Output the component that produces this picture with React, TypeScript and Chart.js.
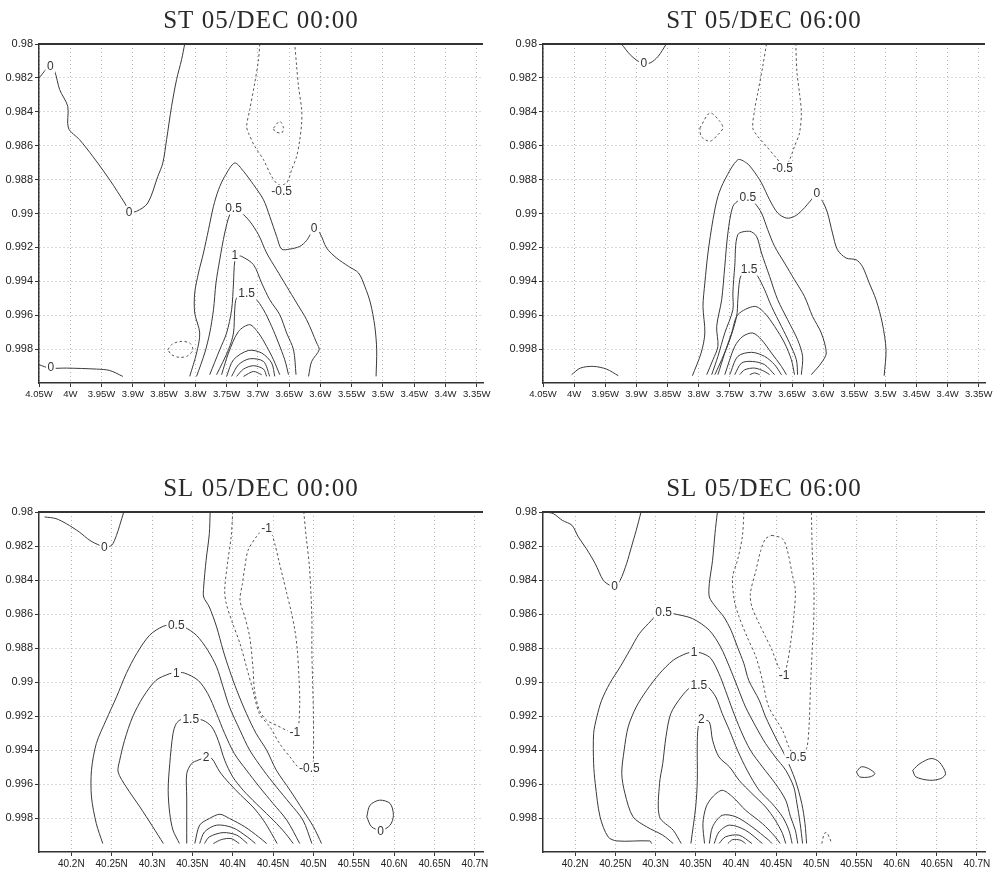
import React, { useEffect, useRef } from 'react';
import { Chart, registerables } from 'chart.js';

Chart.register(...registerables);

type Pt = [number, number];
type Lbl = [number, number, string];

// ---------- axes ----------
const ST_X_TICKS = [-4.05, -4.0, -3.95, -3.9, -3.85, -3.8, -3.75, -3.7, -3.65, -3.6, -3.55, -3.5, -3.45, -3.4, -3.35];
const ST_X_LABELS = ['4.05W', '4W', '3.95W', '3.9W', '3.85W', '3.8W', '3.75W', '3.7W', '3.65W', '3.6W', '3.55W', '3.5W', '3.45W', '3.4W', '3.35W'];
const SL_X_TICKS = [40.2, 40.25, 40.3, 40.35, 40.4, 40.45, 40.5, 40.55, 40.6, 40.65, 40.7];
const SL_X_LABELS = ['40.2N', '40.25N', '40.3N', '40.35N', '40.4N', '40.45N', '40.5N', '40.55N', '40.6N', '40.65N', '40.7N'];
const Y_TICKS = [0.98, 0.982, 0.984, 0.986, 0.988, 0.99, 0.992, 0.994, 0.996, 0.998];
const Y_LABELS = ['0.98', '0.982', '0.984', '0.986', '0.988', '0.99', '0.992', '0.994', '0.996', '0.998'];

// ---------- ST 05/DEC 00:00 ----------
const ST00_Z0_NW: Pt[] = [[-4.050,0.98201],[-4.033,0.98132],[-4.025,0.98161],[-4.017,0.98269],[-4.004,0.98368],[-4.003,0.98496],[-3.985,0.98565],[-3.964,0.98663],[-3.937,0.98801],[-3.913,0.98938],[-3.905,0.98987],[-3.894,0.98987],[-3.876,0.98938],[-3.860,0.98781],[-3.852,0.98702],[-3.846,0.98565],[-3.838,0.98368],[-3.830,0.98210],[-3.822,0.98092],[-3.817,0.98000]];
const ST00_Z0_SW: Pt[] = [[-4.05,0.99892],[-4.033,0.99912],[-4.006,0.99912],[-3.958,0.99918],[-3.937,0.99926],[-3.916,0.99961]];
const ST00_N05_BL: Pt[] = [[-3.844,0.99804],[-3.838,0.99774],[-3.825,0.99755],[-3.809,0.99764],[-3.804,0.99804],[-3.812,0.99839],[-3.825,0.99849],[-3.838,0.99833],[-3.844,0.99804]];
const ST00_N05_TOP: Pt[] = [[-3.697,0.98],[-3.699,0.98092],[-3.705,0.98230],[-3.713,0.98387],[-3.718,0.98486],[-3.715,0.98525],[-3.705,0.98604],[-3.691,0.98683],[-3.678,0.98781],[-3.667,0.98830],[-3.654,0.98820],[-3.646,0.98742],[-3.638,0.98663],[-3.633,0.98565],[-3.630,0.98466],[-3.630,0.98387],[-3.635,0.98250],[-3.638,0.98132],[-3.641,0.98]];
const ST00_N1_TOP: Pt[] = [[-3.675,0.98496],[-3.665,0.98456],[-3.659,0.98496],[-3.662,0.98525],[-3.673,0.98515],[-3.675,0.98496]];
const ST00_Z0_MAIN: Pt[] = [[-3.809,0.99961],[-3.798,0.99823],[-3.793,0.99705],[-3.801,0.99587],[-3.801,0.99469],[-3.795,0.99351],[-3.787,0.99233],[-3.779,0.99096],[-3.771,0.98958],[-3.763,0.98860],[-3.753,0.98781],[-3.737,0.98702],[-3.723,0.98751],[-3.707,0.98830],[-3.691,0.98919],[-3.681,0.99017],[-3.670,0.99135],[-3.662,0.99210],[-3.649,0.99210],[-3.633,0.99194],[-3.622,0.99159],[-3.610,0.99092],[-3.601,0.99115],[-3.590,0.99204],[-3.574,0.99263],[-3.555,0.99312],[-3.539,0.99351],[-3.529,0.99430],[-3.520,0.99528],[-3.513,0.99666],[-3.510,0.99804],[-3.511,0.99961]];
const ST00_P05: Pt[] = [[-3.798,0.99961],[-3.785,0.99823],[-3.777,0.99705],[-3.771,0.99568],[-3.767,0.99410],[-3.761,0.99273],[-3.753,0.99115],[-3.745,0.99007],[-3.737,0.98974],[-3.726,0.98997],[-3.713,0.99046],[-3.699,0.99125],[-3.686,0.99233],[-3.670,0.99332],[-3.654,0.99430],[-3.638,0.99528],[-3.622,0.99627],[-3.606,0.99764],[-3.602,0.99804],[-3.614,0.99873],[-3.619,0.99961]];
const ST00_P1: Pt[] = [[-3.777,0.99951],[-3.761,0.99804],[-3.750,0.99705],[-3.742,0.99568],[-3.739,0.99410],[-3.737,0.99282],[-3.733,0.99253],[-3.726,0.99253],[-3.707,0.99302],[-3.694,0.99410],[-3.681,0.99509],[-3.665,0.99597],[-3.654,0.99705],[-3.643,0.99804],[-3.639,0.99951]];
const ST00_P15: Pt[] = [[-3.766,0.99951],[-3.747,0.99804],[-3.739,0.99705],[-3.737,0.99568],[-3.734,0.99499],[-3.723,0.99479],[-3.705,0.99499],[-3.691,0.99568],[-3.678,0.99666],[-3.667,0.99764],[-3.657,0.99863],[-3.651,0.99951]];
const ST00_P2: Pt[] = [[-3.758,0.99951],[-3.747,0.99823],[-3.731,0.99696],[-3.713,0.99656],[-3.699,0.99705],[-3.686,0.99784],[-3.675,0.99863],[-3.665,0.99951]];
const ST00_P25: Pt[] = [[-3.750,0.99961],[-3.739,0.99863],[-3.715,0.99808],[-3.694,0.99823],[-3.678,0.99882],[-3.673,0.99961]];
const ST00_P3: Pt[] = [[-3.742,0.99961],[-3.731,0.99892],[-3.713,0.99857],[-3.691,0.99873],[-3.681,0.99961]];
const ST00_P35: Pt[] = [[-3.734,0.99961],[-3.723,0.99918],[-3.707,0.99898],[-3.691,0.99918],[-3.686,0.99961]];
const ST00_P4: Pt[] = [[-3.723,0.99961],[-3.707,0.99932],[-3.694,0.99951]];
const ST00_LABELS: Lbl[] = [[-4.032,0.98132,'0'],[-3.906,0.98993,'0'],[-4.031,0.99908,'0'],[-3.610,0.99086,'0'],[-3.662,0.98869,'-0.5'],[-3.739,0.98968,'0.5'],[-3.737,0.99243,'1'],[-3.718,0.99473,'1.5']];

// ---------- ST 05/DEC 06:00 ----------
const ST06_Z0_N: Pt[] = [[-3.924,0.98],[-3.910,0.98063],[-3.897,0.98102],[-3.888,0.98112],[-3.878,0.98112],[-3.865,0.98073],[-3.852,0.98]];
const ST06_Z0_SW: Pt[] = [[-4.004,0.99951],[-3.990,0.99912],[-3.969,0.99902],[-3.948,0.99918],[-3.929,0.99957]];
const ST06_N05_LOOP: Pt[] = [[-3.798,0.98496],[-3.782,0.98407],[-3.766,0.98456],[-3.761,0.98496],[-3.769,0.98535],[-3.782,0.98574],[-3.796,0.98545],[-3.798,0.98496]];
const ST06_N05_TOP: Pt[] = [[-3.691,0.98],[-3.697,0.98132],[-3.705,0.98289],[-3.710,0.98387],[-3.713,0.98496],[-3.705,0.98545],[-3.691,0.98604],[-3.675,0.98673],[-3.662,0.98722],[-3.654,0.98683],[-3.646,0.98604],[-3.638,0.98525],[-3.635,0.98407],[-3.638,0.98289],[-3.642,0.98171],[-3.644,0.98]];
const ST06_Z0_MAIN: Pt[] = [[-3.810,0.99957],[-3.796,0.99823],[-3.790,0.99705],[-3.793,0.99548],[-3.790,0.99410],[-3.785,0.99233],[-3.777,0.99037],[-3.769,0.98899],[-3.758,0.98801],[-3.737,0.98683],[-3.723,0.98702],[-3.713,0.98742],[-3.699,0.98820],[-3.686,0.98919],[-3.673,0.98997],[-3.659,0.99027],[-3.646,0.99017],[-3.633,0.98978],[-3.619,0.98919],[-3.611,0.98889],[-3.601,0.98928],[-3.593,0.98997],[-3.585,0.99115],[-3.577,0.99214],[-3.563,0.99263],[-3.547,0.99273],[-3.537,0.99312],[-3.526,0.99410],[-3.515,0.99509],[-3.505,0.99646],[-3.499,0.99804],[-3.502,0.99957]];
const ST06_P05: Pt[] = [[-3.787,0.99951],[-3.777,0.99863],[-3.769,0.99784],[-3.771,0.99666],[-3.763,0.99509],[-3.758,0.99312],[-3.753,0.99115],[-3.745,0.98958],[-3.734,0.98919],[-3.721,0.98903],[-3.710,0.98938],[-3.699,0.98997],[-3.689,0.99096],[-3.678,0.99194],[-3.662,0.99292],[-3.646,0.99391],[-3.630,0.99489],[-3.617,0.99607],[-3.603,0.99705],[-3.595,0.99823],[-3.603,0.99882],[-3.619,0.99951]];
const ST06_P1: Pt[] = [[-3.779,0.99951],[-3.769,0.99843],[-3.758,0.99705],[-3.745,0.99568],[-3.745,0.99469],[-3.742,0.99312],[-3.737,0.99125],[-3.718,0.99105],[-3.707,0.99135],[-3.699,0.99233],[-3.686,0.99371],[-3.673,0.99509],[-3.657,0.99627],[-3.641,0.99745],[-3.633,0.99843],[-3.635,0.99951]];
const ST06_P15: Pt[] = [[-3.774,0.99951],[-3.763,0.99863],[-3.750,0.99745],[-3.739,0.99607],[-3.737,0.99509],[-3.734,0.99391],[-3.729,0.99351],[-3.715,0.99332],[-3.705,0.99371],[-3.694,0.99450],[-3.683,0.99548],[-3.667,0.99666],[-3.654,0.99764],[-3.643,0.99863],[-3.641,0.99951]];
const ST06_P2: Pt[] = [[-3.769,0.99951],[-3.758,0.99823],[-3.747,0.99705],[-3.737,0.99597],[-3.710,0.99548],[-3.694,0.99587],[-3.678,0.99666],[-3.662,0.99764],[-3.651,0.99863],[-3.646,0.99951]];
const ST06_P25: Pt[] = [[-3.758,0.99951],[-3.742,0.99784],[-3.729,0.99725],[-3.713,0.99705],[-3.699,0.99745],[-3.683,0.99823],[-3.667,0.99902],[-3.659,0.99951]];
const ST06_P3: Pt[] = [[-3.750,0.99951],[-3.737,0.99843],[-3.715,0.99819],[-3.694,0.99843],[-3.678,0.99892],[-3.667,0.99951]];
const ST06_P35: Pt[] = [[-3.742,0.99951],[-3.731,0.99882],[-3.713,0.99873],[-3.694,0.99892],[-3.678,0.99951]];
const ST06_P4: Pt[] = [[-3.734,0.99951],[-3.726,0.99922],[-3.710,0.99912],[-3.694,0.99932],[-3.686,0.99951]];
const ST06_P45: Pt[] = [[-3.718,0.99951],[-3.710,0.99941],[-3.702,0.99951]];
const ST06_LABELS: Lbl[] = [[-3.888,0.98112,'0'],[-3.665,0.98732,'-0.5'],[-3.610,0.98883,'0'],[-3.721,0.98903,'0.5'],[-3.719,0.99328,'1.5']];

// ---------- SL 05/DEC 00:00 ----------
const SL00_Z0_NW: Pt[] = [[40.167,0.98029],[40.181,0.98039],[40.194,0.98069],[40.210,0.98118],[40.223,0.98167],[40.235,0.98196],[40.241,0.98206],[40.250,0.98196],[40.256,0.98137],[40.260,0.98078],[40.265,0.98]];
const SL00_Z0_MAIN: Pt[] = [[40.372,0.98],[40.371,0.98127],[40.367,0.98284],[40.364,0.98441],[40.364,0.98500],[40.371,0.98559],[40.380,0.98676],[40.388,0.98813],[40.396,0.98931],[40.405,0.99049],[40.417,0.99186],[40.429,0.99303],[40.442,0.99401],[40.454,0.99519],[40.471,0.99637],[40.487,0.99754],[40.500,0.99852],[40.510,0.99950]];
const SL00_Z0_LOOP: Pt[] = [[40.566,0.99793],[40.570,0.99725],[40.582,0.99695],[40.595,0.99715],[40.599,0.99784],[40.595,0.99842],[40.584,0.99872],[40.572,0.99852],[40.566,0.99793]];
const SL00_N05: Pt[] = [[40.400,0.98],[40.398,0.98147],[40.394,0.98284],[40.390,0.98461],[40.392,0.98539],[40.400,0.98657],[40.409,0.98774],[40.417,0.98911],[40.425,0.99049],[40.433,0.99186],[40.446,0.99264],[40.458,0.99362],[40.471,0.99441],[40.481,0.99499],[40.492,0.99509],[40.499,0.99480],[40.500,0.99401],[40.500,0.99205],[40.499,0.99009],[40.498,0.98813],[40.498,0.98617],[40.495,0.98323],[40.491,0.98147],[40.488,0.98]];
const SL00_N1: Pt[] = [[40.438,0.98098],[40.429,0.98147],[40.419,0.98225],[40.415,0.98323],[40.412,0.98421],[40.409,0.98519],[40.415,0.98617],[40.421,0.98735],[40.425,0.98911],[40.427,0.99049],[40.433,0.99166],[40.442,0.99225],[40.454,0.99254],[40.469,0.99288],[40.481,0.99294],[40.482,0.99245],[40.483,0.99107],[40.482,0.98970],[40.480,0.98813],[40.477,0.98696],[40.472,0.98578],[40.467,0.98480],[40.462,0.98382],[40.457,0.98284],[40.452,0.98186],[40.447,0.98118],[40.438,0.98098]];
const SL00_P05: Pt[] = [[40.239,0.99950],[40.231,0.99833],[40.225,0.99676],[40.225,0.99519],[40.231,0.99362],[40.243,0.99225],[40.256,0.99088],[40.268,0.98951],[40.281,0.98833],[40.297,0.98725],[40.314,0.98672],[40.330,0.98661],[40.340,0.98676],[40.355,0.98725],[40.369,0.98813],[40.380,0.98911],[40.388,0.99029],[40.396,0.99147],[40.409,0.99284],[40.421,0.99401],[40.438,0.99519],[40.454,0.99617],[40.471,0.99715],[40.487,0.99813],[40.498,0.99950]];
const SL00_P1: Pt[] = [[40.314,0.99950],[40.301,0.99852],[40.285,0.99735],[40.268,0.99617],[40.258,0.99529],[40.260,0.99460],[40.266,0.99343],[40.276,0.99205],[40.289,0.99088],[40.305,0.98990],[40.322,0.98951],[40.330,0.98945],[40.340,0.98947],[40.357,0.98990],[40.369,0.99068],[40.380,0.99186],[40.390,0.99303],[40.402,0.99421],[40.417,0.99519],[40.433,0.99617],[40.450,0.99715],[40.467,0.99813],[40.483,0.99950]];
const SL00_P15: Pt[] = [[40.334,0.99950],[40.326,0.99872],[40.322,0.99774],[40.320,0.99637],[40.322,0.99480],[40.326,0.99303],[40.330,0.99245],[40.336,0.99221],[40.349,0.99217],[40.363,0.99225],[40.374,0.99264],[40.382,0.99343],[40.390,0.99460],[40.400,0.99558],[40.413,0.99637],[40.429,0.99715],[40.446,0.99793],[40.462,0.99872],[40.475,0.99950]];
const SL00_P2: Pt[] = [[40.343,0.99950],[40.343,0.99676],[40.343,0.99539],[40.349,0.99480],[40.357,0.99460],[40.367,0.99445],[40.374,0.99450],[40.384,0.99529],[40.396,0.99597],[40.410,0.99666],[40.425,0.99735],[40.438,0.99813],[40.448,0.99891],[40.455,0.99950]];
const SL00_P25: Pt[] = [[40.353,0.99950],[40.359,0.99842],[40.371,0.99803],[40.384,0.99778],[40.396,0.99803],[40.415,0.99852],[40.432,0.99911],[40.442,0.99950]];
const SL00_P3: Pt[] = [[40.359,0.99950],[40.365,0.99882],[40.380,0.99842],[40.400,0.99857],[40.418,0.99911],[40.428,0.99950]];
const SL00_P35: Pt[] = [[40.365,0.99950],[40.371,0.99911],[40.388,0.99886],[40.405,0.99901],[40.418,0.99950]];
const SL00_P4: Pt[] = [[40.376,0.99950],[40.386,0.99927],[40.398,0.99921],[40.408,0.99950]];
const SL00_LABELS: Lbl[] = [[40.241,0.98206,'0'],[40.583,0.99878,'0'],[40.442,0.98098,'-1'],[40.477,0.99294,'-1'],[40.495,0.99509,'-0.5'],[40.330,0.98666,'0.5'],[40.330,0.98947,'1'],[40.348,0.99217,'1.5'],[40.367,0.99441,'2']];

// ---------- SL 05/DEC 06:00 ----------
const SL06_Z0_NW: Pt[] = [[40.163,0.98],[40.173,0.98010],[40.184,0.98049],[40.196,0.98078],[40.204,0.98147],[40.214,0.98216],[40.225,0.98304],[40.235,0.98402],[40.243,0.98431],[40.249,0.98441],[40.256,0.98402],[40.264,0.98304],[40.270,0.98206],[40.276,0.98108],[40.282,0.98]];
const SL06_Z0_MAIN: Pt[] = [[40.377,0.98],[40.374,0.98127],[40.371,0.98284],[40.367,0.98421],[40.367,0.98500],[40.375,0.98559],[40.385,0.98617],[40.394,0.98696],[40.402,0.98794],[40.410,0.98892],[40.416,0.98990],[40.429,0.99107],[40.437,0.99205],[40.449,0.99323],[40.462,0.99441],[40.474,0.99578],[40.482,0.99715],[40.486,0.99833],[40.488,0.99950]];
const SL06_Z0_LOOP_A: Pt[] = [[40.550,0.99529],[40.556,0.99499],[40.565,0.99509],[40.573,0.99539],[40.567,0.99558],[40.554,0.99558],[40.550,0.99529]];
const SL06_Z0_LOOP_B: Pt[] = [[40.620,0.99519],[40.629,0.99480],[40.643,0.99450],[40.653,0.99470],[40.661,0.99539],[40.655,0.99568],[40.641,0.99578],[40.624,0.99558],[40.620,0.99519]];
const SL06_N05: Pt[] = [[40.410,0.98],[40.408,0.98147],[40.402,0.98284],[40.396,0.98382],[40.398,0.98519],[40.404,0.98617],[40.414,0.98735],[40.425,0.98853],[40.433,0.98990],[40.441,0.99147],[40.458,0.99284],[40.466,0.99382],[40.472,0.99431],[40.480,0.99450],[40.488,0.99392],[40.491,0.99264],[40.493,0.99009],[40.495,0.98813],[40.497,0.98617],[40.497,0.98421],[40.495,0.98225],[40.494,0.98]];
const SL06_N05_ARC: Pt[] = [[40.507,0.99950],[40.510,0.99891],[40.513,0.99887],[40.517,0.99921],[40.519,0.99950]];
const SL06_N1: Pt[] = [[40.445,0.98137],[40.458,0.98157],[40.464,0.98225],[40.470,0.98363],[40.474,0.98461],[40.472,0.98617],[40.468,0.98774],[40.464,0.98892],[40.460,0.98951],[40.453,0.98911],[40.445,0.98813],[40.437,0.98735],[40.429,0.98657],[40.420,0.98559],[40.418,0.98480],[40.425,0.98343],[40.431,0.98225],[40.437,0.98157],[40.445,0.98137]];
const SL06_P05: Pt[] = [[40.295,0.99950],[40.293,0.99935],[40.252,0.99935],[40.241,0.99911],[40.231,0.99793],[40.225,0.99597],[40.223,0.99480],[40.223,0.99303],[40.227,0.99205],[40.233,0.99107],[40.243,0.99009],[40.256,0.98911],[40.268,0.98813],[40.280,0.98715],[40.295,0.98637],[40.303,0.98598],[40.311,0.98588],[40.322,0.98598],[40.346,0.98627],[40.367,0.98696],[40.381,0.98794],[40.392,0.98911],[40.402,0.99029],[40.412,0.99147],[40.425,0.99264],[40.437,0.99362],[40.449,0.99441],[40.462,0.99519],[40.472,0.99617],[40.476,0.99715],[40.480,0.99833],[40.483,0.99950]];
const SL06_P1: Pt[] = [[40.322,0.99950],[40.309,0.99901],[40.289,0.99852],[40.272,0.99793],[40.262,0.99656],[40.258,0.99539],[40.261,0.99401],[40.266,0.99264],[40.276,0.99147],[40.289,0.99049],[40.305,0.98951],[40.322,0.98872],[40.338,0.98833],[40.348,0.98823],[40.359,0.98833],[40.369,0.98862],[40.379,0.98951],[40.387,0.99049],[40.396,0.99166],[40.406,0.99284],[40.418,0.99401],[40.433,0.99499],[40.449,0.99597],[40.462,0.99695],[40.468,0.99793],[40.474,0.99872],[40.477,0.99950]];
const SL06_P15: Pt[] = [[40.332,0.99950],[40.322,0.99872],[40.305,0.99793],[40.305,0.99597],[40.309,0.99480],[40.313,0.99323],[40.319,0.99186],[40.332,0.99088],[40.344,0.99029],[40.354,0.99019],[40.365,0.99029],[40.375,0.99088],[40.383,0.99186],[40.392,0.99284],[40.402,0.99401],[40.414,0.99519],[40.429,0.99637],[40.445,0.99715],[40.458,0.99793],[40.466,0.99872],[40.470,0.99950]];
const SL06_P2: Pt[] = [[40.344,0.99950],[40.350,0.99735],[40.352,0.99578],[40.352,0.99343],[40.354,0.99245],[40.359,0.99225],[40.367,0.99235],[40.371,0.99343],[40.379,0.99441],[40.392,0.99499],[40.404,0.99578],[40.420,0.99656],[40.437,0.99735],[40.449,0.99813],[40.458,0.99891],[40.462,0.99950]];
const SL06_P25: Pt[] = [[40.361,0.99950],[40.359,0.99833],[40.363,0.99735],[40.371,0.99676],[40.383,0.99637],[40.396,0.99676],[40.412,0.99754],[40.433,0.99833],[40.449,0.99911],[40.455,0.99950]];
const SL06_P3: Pt[] = [[40.367,0.99950],[40.371,0.99852],[40.383,0.99784],[40.400,0.99793],[40.420,0.99852],[40.441,0.99931],[40.445,0.99950]];
const SL06_P35: Pt[] = [[40.373,0.99950],[40.379,0.99882],[40.392,0.99842],[40.412,0.99872],[40.433,0.99950]];
const SL06_P4: Pt[] = [[40.379,0.99950],[40.387,0.99911],[40.404,0.99901],[40.420,0.99950]];
const SL06_P45: Pt[] = [[40.390,0.99950],[40.396,0.99927],[40.406,0.99931],[40.412,0.99950]];
const SL06_LABELS: Lbl[] = [[40.249,0.98437,'0'],[40.310,0.98588,'0.5'],[40.348,0.98823,'1'],[40.354,0.99019,'1.5'],[40.357,0.99221,'2'],[40.460,0.98960,'-1'],[40.475,0.99445,'-0.5']];

interface Contour { level: number; pts: Pt[] }
interface PanelCfg {
  title: string;
  left: number; top: number; w: number; h: number;
  pad: { left: number; top: number; right: number; bottom: number };
  yAxisW: number;
  xMin: number; xMax: number;
  xTicks: number[]; xLabels: string[]; xFont: number;
  contours: Contour[];
  labels: Lbl[];
}

const PANELS: PanelCfg[] = [
  {
    title: 'ST 05/DEC 00:00', left: 0, top: 0, w: 499, h: 425,
    pad: { left: 0, top: 44, right: 16, bottom: 20 }, yAxisW: 39,
    xMin: -4.05, xMax: -3.34, xTicks: ST_X_TICKS, xLabels: ST_X_LABELS, xFont: 9.5,
    contours: [
      { level: 0, pts: ST00_Z0_NW }, { level: 0, pts: ST00_Z0_SW }, { level: -0.5, pts: ST00_N05_BL },
      { level: -0.5, pts: ST00_N05_TOP }, { level: -1, pts: ST00_N1_TOP }, { level: 0, pts: ST00_Z0_MAIN },
      { level: 0.5, pts: ST00_P05 }, { level: 1, pts: ST00_P1 }, { level: 1.5, pts: ST00_P15 },
      { level: 2, pts: ST00_P2 }, { level: 2.5, pts: ST00_P25 }, { level: 3, pts: ST00_P3 },
      { level: 3.5, pts: ST00_P35 }, { level: 4, pts: ST00_P4 },
    ],
    labels: ST00_LABELS,
  },
  {
    title: 'ST 05/DEC 06:00', left: 500, top: 0, w: 499, h: 425,
    pad: { left: 0, top: 44, right: 14, bottom: 20 }, yAxisW: 43,
    xMin: -4.05, xMax: -3.34, xTicks: ST_X_TICKS, xLabels: ST_X_LABELS, xFont: 9.5,
    contours: [
      { level: 0, pts: ST06_Z0_N }, { level: 0, pts: ST06_Z0_SW }, { level: -0.5, pts: ST06_N05_LOOP },
      { level: -0.5, pts: ST06_N05_TOP }, { level: 0, pts: ST06_Z0_MAIN },
      { level: 0.5, pts: ST06_P05 }, { level: 1, pts: ST06_P1 }, { level: 1.5, pts: ST06_P15 },
      { level: 2, pts: ST06_P2 }, { level: 2.5, pts: ST06_P25 }, { level: 3, pts: ST06_P3 },
      { level: 3.5, pts: ST06_P35 }, { level: 4, pts: ST06_P4 }, { level: 4.5, pts: ST06_P45 },
    ],
    labels: ST06_LABELS,
  },
  {
    title: 'SL 05/DEC 00:00', left: 0, top: 430, w: 499, h: 445,
    pad: { left: 0, top: 82, right: 16, bottom: 1 }, yAxisW: 39,
    xMin: 40.16, xMax: 40.71, xTicks: SL_X_TICKS, xLabels: SL_X_LABELS, xFont: 10,
    contours: [
      { level: 0, pts: SL00_Z0_NW }, { level: 0, pts: SL00_Z0_MAIN }, { level: 0, pts: SL00_Z0_LOOP },
      { level: -0.5, pts: SL00_N05 }, { level: -1, pts: SL00_N1 },
      { level: 0.5, pts: SL00_P05 }, { level: 1, pts: SL00_P1 }, { level: 1.5, pts: SL00_P15 },
      { level: 2, pts: SL00_P2 }, { level: 2.5, pts: SL00_P25 }, { level: 3, pts: SL00_P3 },
      { level: 3.5, pts: SL00_P35 }, { level: 4, pts: SL00_P4 },
    ],
    labels: SL00_LABELS,
  },
  {
    title: 'SL 05/DEC 06:00', left: 500, top: 430, w: 499, h: 445,
    pad: { left: 0, top: 82, right: 14, bottom: 1 }, yAxisW: 43,
    xMin: 40.16, xMax: 40.71, xTicks: SL_X_TICKS, xLabels: SL_X_LABELS, xFont: 10,
    contours: [
      { level: 0, pts: SL06_Z0_NW }, { level: 0, pts: SL06_Z0_MAIN }, { level: 0, pts: SL06_Z0_LOOP_A },
      { level: 0, pts: SL06_Z0_LOOP_B }, { level: -0.5, pts: SL06_N05 }, { level: -0.5, pts: SL06_N05_ARC },
      { level: -1, pts: SL06_N1 },
      { level: 0.5, pts: SL06_P05 }, { level: 1, pts: SL06_P1 }, { level: 1.5, pts: SL06_P15 },
      { level: 2, pts: SL06_P2 }, { level: 2.5, pts: SL06_P25 }, { level: 3, pts: SL06_P3 },
      { level: 3.5, pts: SL06_P35 }, { level: 4, pts: SL06_P4 }, { level: 4.5, pts: SL06_P45 },
    ],
    labels: SL06_LABELS,
  },
];

const TICK_FONT = '"Liberation Sans", Arial, sans-serif';

function decorPlugin(cfg: PanelCfg) {
  return {
    id: 'decor',
    afterDatasetsDraw(chart: any) {
      const { ctx, scales } = chart;
      ctx.save();
      ctx.font = '12px "Liberation Sans", Arial, sans-serif';
      ctx.textAlign = 'center';
      ctx.textBaseline = 'middle';
      for (const [x, y, t] of cfg.labels) {
        const px = scales.x.getPixelForValue(x);
        const py = scales.y.getPixelForValue(y);
        const w = ctx.measureText(t).width;
        ctx.fillStyle = '#ffffff';
        ctx.fillRect(px - w / 2 - 1.5, py - 6.5, w + 3, 13);
        ctx.fillStyle = '#333333';
        ctx.fillText(t, px, py + 0.5);
      }
      ctx.restore();
    },
    afterDraw(chart: any) {
      const { ctx, chartArea } = chart;
      ctx.save();
      ctx.strokeStyle = '#333333';
      ctx.lineWidth = 2;
      ctx.beginPath();
      ctx.moveTo(chartArea.left, chartArea.top);
      ctx.lineTo(chartArea.right, chartArea.top);
      ctx.stroke();
      ctx.font = '25px "Liberation Serif", "DejaVu Serif", serif';
      try { (ctx as any).letterSpacing = '1px'; } catch (e) { /* ignore */ }
      ctx.fillStyle = '#2a2a2a';
      ctx.textAlign = 'center';
      ctx.textBaseline = 'middle';
      ctx.fillText(cfg.title, (chartArea.left + chartArea.right) / 2, chartArea.top - 23);
      ctx.restore();
    },
  };
}

function Panel({ cfg }: { cfg: PanelCfg }) {
  const ref = useRef<HTMLCanvasElement | null>(null);
  useEffect(() => {
    const canvas = ref.current;
    if (!canvas) return;
    const gridOpts = {
      color: '#b4b4b4',
      lineWidth: 1,
      drawTicks: true,
      tickLength: 4,
      tickColor: '#333333',
      tickWidth: 1,
      tickBorderDash: [] as number[],
    };
    const borderOpts = { display: true, color: '#333333', width: 1.5, dash: [1, 3] };
    const chart = new Chart(canvas, {
      type: 'scatter',
      data: {
        datasets: cfg.contours.map((c) => ({
          data: c.pts.map(([x, y]) => ({ x, y })),
          showLine: true,
          pointRadius: 0,
          pointHoverRadius: 0,
          borderColor: c.level < 0 ? '#555555' : '#3a3a3a',
          borderWidth: 1,
          borderDash: c.level < 0 ? [2.5, 2.5] : [],
          tension: 0.3,
          fill: false,
        })),
      },
      options: {
        responsive: false,
        animation: false,
        devicePixelRatio: 1,
        events: [],
        layout: { padding: cfg.pad },
        plugins: {
          legend: { display: false },
          tooltip: { enabled: false },
          title: { display: false },
        },
        scales: {
          x: {
            type: 'linear',
            min: cfg.xMin,
            max: cfg.xMax,
            afterBuildTicks: (s: any) => { s.ticks = cfg.xTicks.map((v) => ({ value: v })); },
            afterFit: (s: any) => { s.height = 22; },
            ticks: {
              autoSkip: false,
              maxRotation: 0,
              minRotation: 0,
              padding: 2,
              color: '#222222',
              font: { family: TICK_FONT, size: cfg.xFont },
              callback: (_v: any, i: number) => cfg.xLabels[i],
            },
            grid: gridOpts,
            border: borderOpts,
          },
          y: {
            type: 'linear',
            reverse: true,
            min: 0.98,
            max: 1.0,
            afterBuildTicks: (s: any) => { s.ticks = Y_TICKS.map((v) => ({ value: v })); },
            afterFit: (s: any) => { s.width = cfg.yAxisW; },
            ticks: {
              autoSkip: false,
              padding: 2,
              color: '#222222',
              font: { family: TICK_FONT, size: 11 },
              callback: (_v: any, i: number) => Y_LABELS[i],
            },
            grid: gridOpts,
            border: borderOpts,
          },
        },
      } as any,
      plugins: [decorPlugin(cfg)],
    });
    return () => chart.destroy();
  }, [cfg]);
  return (
    <canvas
      ref={ref}
      width={cfg.w}
      height={cfg.h}
      style={{ position: 'absolute', left: cfg.left, top: cfg.top, width: cfg.w, height: cfg.h }}
    />
  );
}

export default function App() {
  return (
    <div style={{ position: 'absolute', left: 0, top: 0, width: 999, height: 875, background: '#ffffff', overflow: 'hidden' }}>
      {PANELS.map((p) => (
        <Panel key={p.title} cfg={p} />
      ))}
    </div>
  );
}
